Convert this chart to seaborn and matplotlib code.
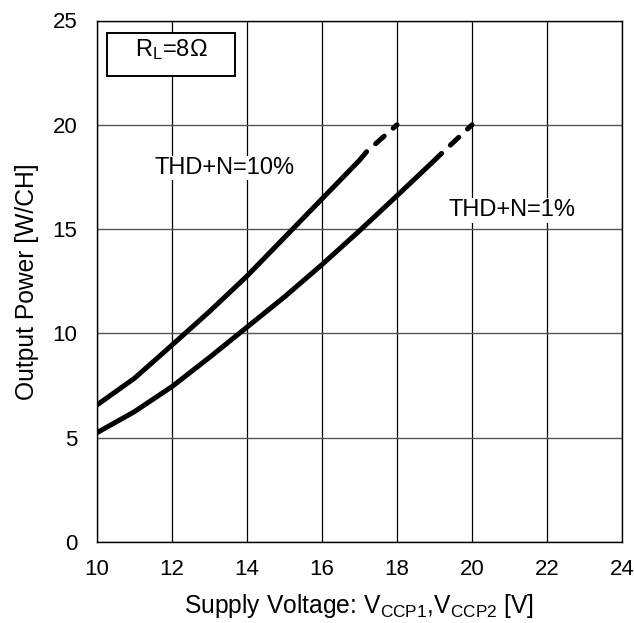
import matplotlib
matplotlib.use("Agg")
import matplotlib.pyplot as plt
import seaborn as sns
from matplotlib.patches import Rectangle

# Data
volt_thd10 = [10, 11, 12, 13, 14, 15, 16, 17, 17.19]
power_thd10 = [6.57, 7.85, 9.44, 11.05, 12.75, 14.6, 16.45, 18.3, 18.71]
volt_thd10_dash = [17.19, 18]
power_thd10_dash = [18.71, 20]

volt_thd1 = [10, 11, 12, 13, 14, 15, 16, 17, 18, 19, 19.19]
power_thd1 = [5.24, 6.25, 7.45, 8.85, 10.3, 11.75, 13.3, 14.92, 16.6, 18.3, 18.63]
volt_thd1_dash = [19.19, 20]
power_thd1_dash = [18.63, 20]

x_ticks = [10, 12, 14, 16, 18, 20, 22, 24]
y_ticks = [0, 5, 10, 15, 20, 25]

sns.set_theme(style="white")
plt.rcParams['font.family'] = ['Liberation Sans', 'DejaVu Sans']
plt.rcParams['mathtext.fontset'] = 'custom'
plt.rcParams['mathtext.rm'] = 'Liberation Sans'
plt.rcParams['mathtext.it'] = 'Liberation Sans'

fig = plt.figure(figsize=(6.34, 6.23), dpi=100)
ax = fig.add_axes([97 / 634, 1 - 542 / 623, 525 / 634, 521.5 / 623])

FS_TICK = 16
FS = 17
FS_LABEL = 17.7
lw = 3.6

sns.lineplot(x=volt_thd10, y=power_thd10, ax=ax, color='black', linewidth=lw,
             sort=False, estimator=None, solid_capstyle='round',
             solid_joinstyle='round', zorder=4)
sns.lineplot(x=volt_thd1, y=power_thd1, ax=ax, color='black', linewidth=lw,
             sort=False, estimator=None, solid_capstyle='round',
             solid_joinstyle='round', zorder=4)
for xs, ys in [(volt_thd10_dash, power_thd10_dash), (volt_thd1_dash, power_thd1_dash)]:
    sns.lineplot(x=xs, y=ys, ax=ax, color='black', linewidth=lw, sort=False,
                 estimator=None, zorder=4)
for line in ax.lines[2:]:
    line.set_linestyle((2.3, (2.3, 2.4)))
    line.set_dash_capstyle('round')

ax.set_xlim(10, 24)
ax.set_ylim(0, 25)
ax.set_xticks(x_ticks)
ax.set_yticks(y_ticks)
ax.tick_params(axis='both', length=0, labelsize=FS_TICK, colors='black')
ax.tick_params(axis='y', pad=14)
ax.tick_params(axis='x', pad=12)
ax.xaxis.grid(True, color='black', linewidth=0.9, zorder=1)
ax.yaxis.grid(True, color='#555555', linewidth=1.0, zorder=1)
ax.set_axisbelow(True)
for s in ax.spines.values():
    s.set_color('black')
    s.set_linewidth(1.0)

ax.set_xlabel(r'Supply Voltage: V$_{\mathrm{CCP1}}$,V$_{\mathrm{CCP2}}$ [V]',
              fontsize=FS_LABEL, color='black', labelpad=9)
ax.set_ylabel('Output Power [W/CH]', fontsize=FS_LABEL, color='black', labelpad=10)

ax.text(13.39, 17.93, 'THD+N=10%', fontsize=FS, ha='center', va='center',
        color='black', zorder=3,
        bbox=dict(facecolor='white', edgecolor='none', pad=1))
ax.text(21.08, 15.9, 'THD+N=1%', fontsize=FS, ha='center', va='center',
        color='black', zorder=3,
        bbox=dict(facecolor='white', edgecolor='none', pad=1))

ax.add_patch(Rectangle((10.27, 22.35), 3.41, 2.07, facecolor='white',
                       edgecolor='black', linewidth=1.4, zorder=5))
ax.text(11.99, 23.6, r'R$_{\mathrm{L}}$=8Ω', fontsize=FS, ha='center', va='center',
        color='black', zorder=6)

fig.savefig('out.png', dpi=100)
